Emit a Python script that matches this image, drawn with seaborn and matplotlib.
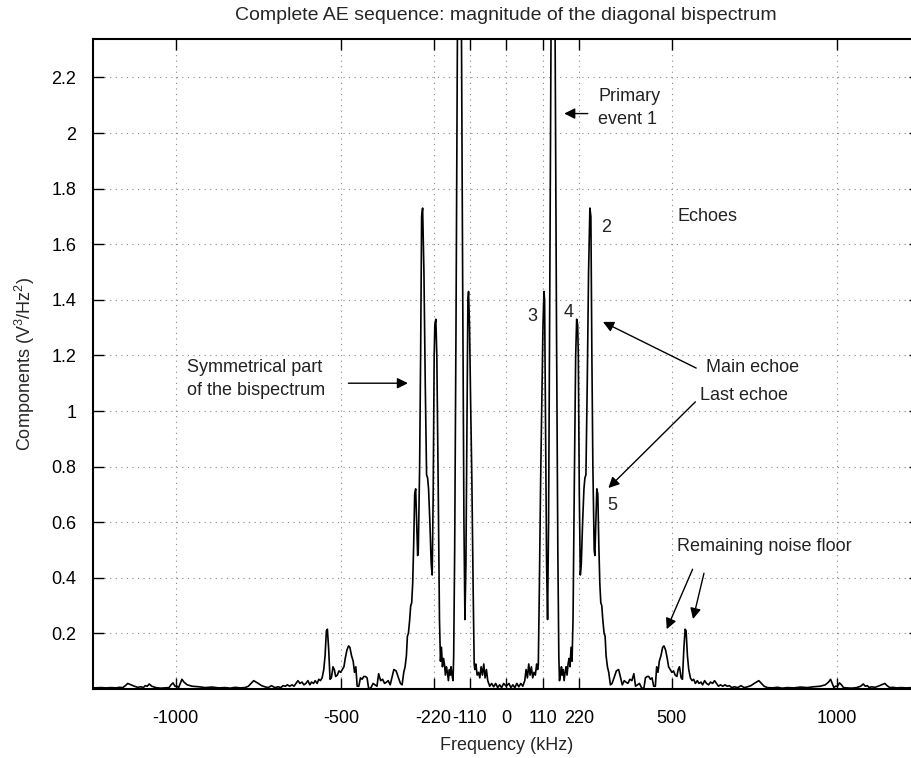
import numpy as np
import pandas as pd
import matplotlib
matplotlib.use('Agg')
import matplotlib.pyplot as plt
import seaborn as sns

# positive half of the diagonal bispectrum (kHz, V^3/Hz^2).
# the plotted spectrum is symmetric, the negative half is its mirror image
freq_pos = [0, 8, 14, 20, 26, 32, 38, 44, 50, 56, 60, 64, 68, 72, 76, 80, 84, 88, 92, 95,
            97, 100, 104, 108, 111, 114, 116, 119, 122, 125, 128, 132, 136, 140, 144, 148,
            152, 156, 159, 161, 164, 167, 169, 172, 175, 178, 181, 184, 187, 190, 193, 196,
            199, 202, 206, 210, 213, 216, 218, 221, 224, 227, 231, 235, 238, 241, 245, 249,
            253, 256, 259, 262, 266, 268, 271, 274, 277, 280, 283, 286, 289, 292, 296, 299,
            302, 306, 310, 315, 320, 326, 333, 340, 346, 351, 357, 362, 368, 374, 380, 386,
            391, 397, 403, 409, 416, 421, 426, 431, 436, 441, 446, 451, 455, 459, 463, 468,
            473, 477, 482, 487, 491, 496, 501, 506, 511, 516, 520, 524, 529, 533, 537, 541,
            544, 548, 552, 557, 562, 567, 572, 578, 583, 589, 594, 600, 606, 612, 618, 624,
            630, 636, 642, 648, 655, 662, 668, 675, 682, 690, 700, 710, 720, 730, 740, 750,
            757, 764, 772, 780, 790, 805, 820, 835, 850, 870, 890, 910, 930, 950, 965, 975,
            981, 986, 991, 996, 1002, 1008, 1014, 1020, 1030, 1045, 1060, 1072, 1080, 1086,
            1092, 1098, 1105, 1115, 1125, 1135, 1145, 1152, 1160, 1170, 1180, 1195, 1210,
            1225, 1250]
mag_pos = [0.01, 0.02, 0.005, 0.015, 0.005, 0.02, 0.008, 0.02, 0.01, 0.03, 0.07, 0.04, 0.09,
           0.05, 0.08, 0.04, 0.06, 0.05, 0.09, 0.07,
           0.09, 0.35, 0.75, 1.05, 1.3, 1.43, 1.40, 0.9, 0.45, 0.25, 0.6, 1.5, 2.5, 3.2, 3.2,
           2.3, 1.3, 0.5, 0.12, 0.03, 0.05, 0.08, 0.05, 0.07, 0.03, 0.06, 0.08, 0.05, 0.09,
           0.11, 0.08, 0.15, 0.10, 0.25, 0.75, 1.2, 1.33, 1.31, 1.2, 0.7, 0.41, 0.45, 0.6,
           0.72, 0.76, 0.77, 1.1, 1.5, 1.73, 1.70, 1.2, 0.8, 0.5, 0.48, 0.6, 0.72, 0.70, 0.52,
           0.38, 0.31, 0.30, 0.25, 0.20, 0.19, 0.12, 0.08, 0.06, 0.015, 0.02, 0.04, 0.065,
           0.07, 0.04, 0.015, 0.03, 0.025, 0.02, 0.035, 0.03, 0.055, 0.01, 0.015, 0.02, 0.005,
           0.0, 0.04, 0.045, 0.045, 0.035, 0.04, 0.01, 0.01, 0.08, 0.06, 0.1, 0.12, 0.15,
           0.155, 0.14, 0.11, 0.08, 0.07, 0.06, 0.065, 0.05, 0.045, 0.07, 0.08, 0.04, 0.035,
           0.14, 0.215, 0.21, 0.12, 0.07, 0.04, 0.03, 0.035, 0.02, 0.03, 0.02, 0.025, 0.015,
           0.03, 0.02, 0.015, 0.025, 0.02, 0.03, 0.02, 0.01, 0.015, 0.01, 0.015, 0.01, 0.012,
           0.005, 0.008, 0.005, 0.012, 0.005, 0.008, 0.012, 0.02, 0.025, 0.03, 0.02, 0.01,
           0.005, 0.004, 0.006, 0.003, 0.005, 0.004, 0.007, 0.005, 0.008, 0.01, 0.015, 0.025,
           0.035, 0.02, 0.005, 0.01, 0.01, 0.022, 0.015, 0.005, 0.004, 0.003, 0.005, 0.01,
           0.018, 0.01, 0.012, 0.005, 0.008, 0.006, 0.01, 0.015, 0.02, 0.012, 0.005, 0.006,
           0.004, 0.005, 0.004, 0.005, 0.004]

xticks = [-1000, -500, -220, -110, 0, 110, 220, 500, 1000]
xticklabels = ['-1000', '-500', '-220', '-110', '0', '110', '220', '500', '1000']
yticks = [0.2, 0.4, 0.6, 0.8, 1.0, 1.2, 1.4, 1.6, 1.8, 2.0, 2.2]
yticklabels = ['0.2', '0.4', '0.6', '0.8', '1', '1.2', '1.4', '1.6', '1.8', '2', '2.2']

fp = np.array(freq_pos, dtype=float)
mp = np.array(mag_pos, dtype=float)
d = pd.DataFrame({'freq': np.concatenate([-fp[:0:-1], fp]),
                  'mag': np.concatenate([mp[:0:-1], mp])})

sns.set_theme(style='white')
plt.rcParams['font.family'] = ['Liberation Sans', 'DejaVu Sans']
plt.rcParams['mathtext.default'] = 'regular'

fig = plt.figure(figsize=(9.11, 7.58), dpi=100)
# right border of the original frame is cut off by the image edge
ax = fig.add_axes([93 / 911, 69 / 758, 826.5 / 911, 650.5 / 758])
sns.lineplot(data=d, x='freq', y='mag', color='black', lw=1.2,
             estimator=None, sort=False, ax=ax)

ax.set_xlim(-1250, 1250)
ax.set_ylim(0, 2.34)
ax.set_xticks(xticks)
ax.set_xticklabels(xticklabels)
ax.set_yticks(yticks)
ax.set_yticklabels(yticklabels)
ax.tick_params(axis='x', direction='in', length=8, width=1, bottom=True, top=True,
               labelsize=13, pad=15, colors='black')
ax.tick_params(axis='y', direction='in', length=8, width=1, left=True, right=True,
               labelsize=13, pad=12, colors='black')
ax.grid(True, linestyle=(0, (1, 4)), color='#888888', lw=0.8)
for s in ax.spines.values():
    s.set_color('black')
    s.set_linewidth(1.5)

ax.set_title('Complete AE sequence: magnitude of the diagonal bispectrum', fontsize=14, pad=13)
ax.set_xlabel('Frequency (kHz)', fontsize=13, labelpad=7)
ax.set_ylabel('Components (V$^3$/Hz$^2$)', fontsize=13, labelpad=10)

arr = dict(arrowstyle='-|>', color='black', lw=1.0, mutation_scale=16)
txt = dict(fontsize=13, color='#222222')

ax.text(279, 2.09, 'Primary\nevent 1', va='center', ha='left', linespacing=1.4, **txt)
ax.annotate('', xy=(167, 2.07), xytext=(255, 2.07), arrowprops=arr)
ax.text(517, 1.70, 'Echoes', va='center', ha='left', **txt)
ax.text(287, 1.66, '2', va='center', ha='left', **txt)
ax.text(79, 1.34, '3', va='center', ha='center', **txt)
ax.text(188, 1.355, '4', va='center', ha='center', **txt)
ax.text(320, 0.66, '5', va='center', ha='center', **txt)
ax.text(603, 1.156, 'Main echoe', va='center', ha='left', **txt)
ax.annotate('', xy=(285, 1.325), xytext=(582, 1.15), arrowprops=arr)
ax.text(586, 1.055, 'Last echoe', va='center', ha='left', **txt)
ax.annotate('', xy=(303, 0.716), xytext=(578, 1.04), arrowprops=arr)
ax.text(-967, 1.115, 'Symmetrical part\nof the bispectrum', va='center', ha='left',
        linespacing=1.4, **txt)
ax.annotate('', xy=(-289, 1.10), xytext=(-486, 1.10), arrowprops=arr)
ax.text(515, 0.512, 'Remaining noise floor', va='center', ha='left', **txt)
ax.annotate('', xy=(482, 0.206), xytext=(567, 0.44), arrowprops=arr)
ax.annotate('', xy=(563, 0.242), xytext=(600, 0.426), arrowprops=arr)

plt.savefig('out.png', dpi=100)
